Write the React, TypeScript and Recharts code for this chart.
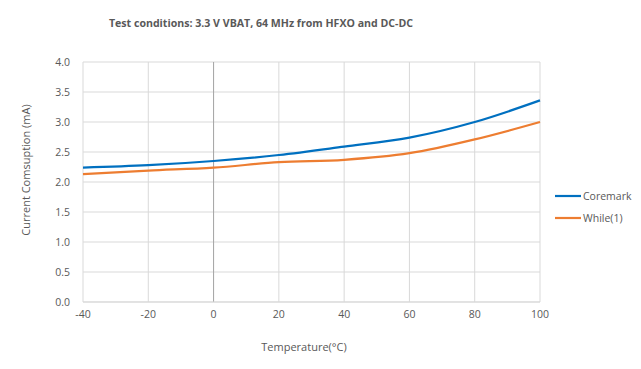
import { CartesianGrid, Line, LineChart, ReferenceLine, XAxis, YAxis } from "recharts";

const temps = [-40, -20, 0, 20, 40, 60, 80, 100];
const coremark = [2.24, 2.28, 2.35, 2.45, 2.59, 2.74, 3.0, 3.36];
const whileLoop = [2.13, 2.19, 2.24, 2.33, 2.37, 2.48, 2.71, 3.0];
const yTicks = [0, 0.5, 1, 1.5, 2, 2.5, 3, 3.5, 4];

const data = temps.map((t, i) => ({ t, coremark: coremark[i], while1: whileLoop[i] }));

const FONT = "'Open Sans', 'Noto Sans', sans-serif";
const TEXT = "#595959";
const GRID = "#d9d9d9";

const legendItems = [
  { name: "Coremark", color: "#0070c0" },
  { name: "While(1)", color: "#ed7d31" },
];

function LegendBox() {
  return (
    <svg width={90} height={44} style={{ position: "absolute", left: 555, top: 188 }}>
      {legendItems.map((it, i) => (
        <g key={it.name} transform={`translate(0, ${8 + i * 22})`}>
          <line x1={0} x2={26} y1={0} y2={0} stroke={it.color} strokeWidth={2.2} />
          <text x={28} y={4} fontSize={10.5} fill={TEXT} fontFamily={FONT}>
            {it.name}
          </text>
        </g>
      ))}
    </svg>
  );
}

export default function App() {
  return (
    <div style={{ position: "absolute", left: 0, top: 0, width: 641, height: 369, background: "#fff", fontFamily: FONT }}>
      <LineChart width={641} height={369} data={data} margin={{ top: 62, right: 101, left: 0, bottom: 0 }}>
        <text x={261} y={27} textAnchor="middle" fontSize={10.6} fontWeight="bold" fill={TEXT} fontFamily={FONT}>
          Test conditions: 3.3 V VBAT, 64 MHz from HFXO and DC-DC
        </text>
        <text
          x={30}
          y={170}
          transform="rotate(-90 30 170)"
          textAnchor="middle"
          fontSize={11}
          fill={TEXT}
          fontFamily={FONT}
        >
          Current Comsuption (mA)
        </text>
        <text x={304} y={351} textAnchor="middle" fontSize={11} fill={TEXT} fontFamily={FONT}>
          Temperature(°C)
        </text>
        <CartesianGrid stroke={GRID} strokeWidth={1} />
        <XAxis
          dataKey="t"
          type="number"
          domain={[-40, 100]}
          ticks={temps}
          height={67}
          tickLine={false}
          axisLine={{ stroke: GRID }}
          tickMargin={3}
          tick={{ fill: TEXT, fontSize: 10.5, fontFamily: FONT }}
        />
        <YAxis
          type="number"
          domain={[0, 4]}
          ticks={yTicks}
          width={83}
          tickLine={false}
          axisLine={false}
          tickMargin={7}
          tickFormatter={(v: number) => v.toFixed(1)}
          tick={{ fill: TEXT, fontSize: 10.5, fontFamily: FONT }}
        />
        <ReferenceLine x={0} stroke="#a6a6a6" strokeWidth={1} />
        <Line type="monotone" dataKey="coremark" stroke="#0070c0" strokeWidth={2.2} dot={false} isAnimationActive={false} />
        <Line type="monotone" dataKey="while1" stroke="#ed7d31" strokeWidth={2.2} dot={false} isAnimationActive={false} />
      </LineChart>
      <LegendBox />
    </div>
  );
}
